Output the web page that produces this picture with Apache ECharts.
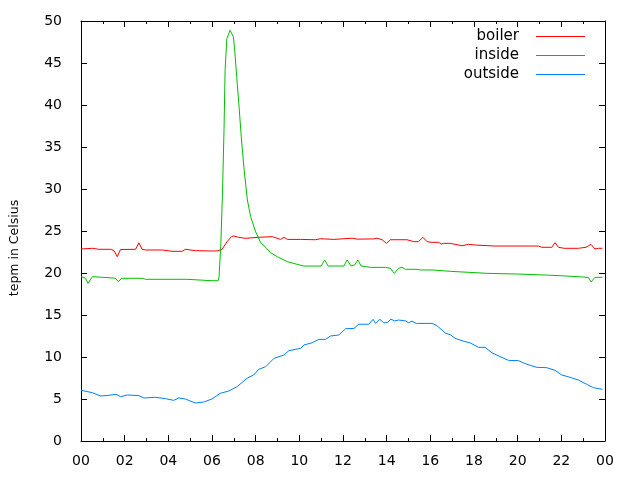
<!DOCTYPE html>
<html>
<head>
<meta charset="utf-8">
<script src="https://cdn.jsdelivr.net/npm/echarts@6/dist/echarts.min.js"></script>
<style>html,body{margin:0;padding:0;background:#fff}#c{width:640px;height:480px}</style>
</head>
<body>
<div id="c"></div>
<script>
const seriesNames = ['boiler', 'inside', 'outside'];
const xTickLabels = ['00','02','04','06','08','10','12','14','16','18','20','22','00'];
const yTickLabels = ['0','5','10','15','20','25','30','35','40','45','50'];

const boiler = [[0,22.86],[0.52,22.94],[0.82,22.82],[1.36,22.82],[1.51,22.66],[1.66,21.94],[1.81,22.8],[2.5,22.82],[2.65,23.6],[2.8,22.82],[2.96,22.74],[3.72,22.74],[4.17,22.58],[4.63,22.58],[4.78,22.82],[5.24,22.66],[6.0,22.62],[6.23,22.62],[6.46,22.82],[6.69,23.73],[6.9,24.35],[7.0,24.4],[7.22,24.25],[7.53,24.13],[8.14,24.25],[8.76,24.33],[9.14,24.0],[9.3,24.25],[9.45,24.0],[10.06,24.0],[10.74,23.96],[10.97,24.08],[11.58,24.0],[12.42,24.14],[12.65,24.03],[13.41,24.06],[13.56,24.14],[13.79,23.96],[13.99,23.53],[14.17,23.96],[14.93,23.96],[15.24,23.73],[15.46,23.73],[15.66,24.25],[15.85,23.73],[16.08,23.65],[16.38,23.65],[16.49,23.45],[16.61,23.53],[16.91,23.53],[17.45,23.25],[17.75,23.41],[18.06,23.33],[18.97,23.21],[20.57,23.21],[20.64,23.06],[20.95,23.21],[21.1,23.06],[21.56,23.06],[21.71,23.61],[21.87,23.06],[22.13,22.94],[22.78,22.94],[22.86,23.06],[23.13,23.06],[23.36,23.41],[23.54,22.86],[23.69,22.94],[23.88,22.94]];

const inside = [[0,19.56],[0.21,19.37],[0.32,18.77],[0.52,19.56],[1.28,19.44],[1.58,19.37],[1.71,18.97],[1.86,19.37],[2.8,19.37],[2.96,19.25],[4.86,19.25],[4.94,19.08],[6.0,19.08],[6.28,19.08],[6.32,19.5],[6.4,23.1],[6.48,29.5],[6.55,37],[6.6,44.2],[6.68,47.9],[6.83,48.9],[6.98,48.1],[7.05,46.2],[7.13,43.4],[7.24,39.8],[7.34,36.2],[7.47,32.3],[7.62,28.7],[7.77,26.7],[8.0,24.9],[8.23,23.6],[8.46,23.05],[8.69,22.4],[8.99,21.94],[9.45,21.35],[9.9,21.03],[10.21,20.83],[11.0,20.83],[11.16,21.55],[11.32,20.83],[12.04,20.83],[12.19,21.55],[12.37,20.83],[12.53,20.95],[12.68,21.55],[12.83,20.83],[13.26,20.67],[13.94,20.67],[14.17,20.56],[14.35,19.96],[14.55,20.56],[14.7,20.67],[14.86,20.44],[15.39,20.44],[15.54,20.36],[16.08,20.36],[16.15,20.2],[16.91,20.2],[16.99,20.08],[17.75,20.08],[17.83,19.96],[18.59,19.96],[18.67,19.88],[19.96,19.88],[20.04,19.76],[21.26,19.76],[21.33,19.64],[22.25,19.64],[22.32,19.48],[23.24,19.48],[23.36,18.93],[23.54,19.48],[23.88,19.48]];

const outside = [[0,6.04],[0.52,5.75],[0.9,5.36],[1.28,5.44],[1.61,5.56],[1.81,5.27],[2.12,5.48],[2.65,5.4],[2.88,5.12],[3.41,5.2],[3.87,5.04],[4.25,4.84],[4.48,5.12],[4.78,5.0],[5.24,4.52],[5.62,4.64],[6.0,5.0],[6.38,5.68],[6.77,5.95],[7.15,6.47],[7.37,6.95],[7.6,7.46],[7.91,7.86],[8.14,8.53],[8.46,8.85],[8.84,9.84],[9.3,10.24],[9.52,10.75],[10.06,11.03],[10.21,11.43],[10.59,11.7],[10.9,12.1],[11.2,12.1],[11.43,12.5],[11.81,12.62],[12.12,13.37],[12.5,13.4],[12.72,13.9],[13.18,13.9],[13.38,14.48],[13.49,14.0],[13.68,14.5],[13.87,14.08],[14.02,14.08],[14.2,14.5],[14.36,14.3],[14.55,14.4],[14.86,14.3],[15.01,14.08],[15.16,14.27],[15.36,14.0],[16.08,14.0],[16.3,13.73],[16.7,12.82],[16.91,12.66],[17.14,12.22],[17.45,11.94],[17.83,11.67],[18.21,11.15],[18.51,11.15],[18.82,10.5],[19.2,10.04],[19.58,9.6],[20.04,9.56],[20.42,9.13],[20.88,8.77],[21.33,8.73],[21.71,8.41],[22.02,7.86],[22.4,7.58],[22.78,7.26],[23.16,6.75],[23.47,6.35],[23.88,6.15]];

const colors = ['#ff0000', '#00c000', '#0080ff'];
const FONT = 'DejaVu Sans';

const chart = echarts.init(document.getElementById('c'), null, {renderer: 'canvas'});

function xAx(pos, showLabel) {
  return {
    type: 'value', min: 0, max: 24, interval: 2, position: pos,
    axisLine: {show: true, onZero: false, lineStyle: {color: '#000', width: 1}},
    axisTick: {show: true, inside: true, length: 6, lineStyle: {color: '#000'}},
    minorTick: {show: true, splitNumber: 2, length: 3, lineStyle: {color: '#000'}},
    splitLine: {show: false},
    axisLabel: {show: showLabel, margin: 13, color: '#000', fontFamily: FONT, fontSize: 14,
      formatter: v => xTickLabels[Math.round(v / 2)]}
  };
}
function yAx(pos, showLabel) {
  return {
    type: 'value', min: 0, max: 50, interval: 5, position: pos,
    name: showLabel ? 'tepm in Celsius' : '', nameLocation: 'middle', nameGap: 60, nameRotate: 90,
    nameTextStyle: {color: '#000', fontFamily: FONT, fontSize: 12.5, padding: [0, 34, 0, 0]},
    axisLine: {show: true, onZero: false, lineStyle: {color: '#000', width: 1}},
    axisTick: {show: true, inside: true, length: 6, lineStyle: {color: '#000'}},
    splitLine: {show: false},
    axisLabel: {show: showLabel, margin: 19, color: '#000', fontFamily: FONT, fontSize: 14,
      formatter: v => yTickLabels[Math.round(v / 5)]}
  };
}

const dataBySeries = [boiler, inside, outside];
const legends = seriesNames.map((n, i) => ({
  data: [{name: n, icon: 'path://M0,0H49V1H0Z', itemStyle: {color: colors[i], borderWidth: 0}}],
  right: 55, top: 29 + i * 19, align: 'right', orient: 'vertical',
  itemWidth: 49, itemHeight: 14, itemGap: 0, padding: 0, selectedMode: false,
  textStyle: {color: '#000', fontFamily: FONT, fontSize: 15, lineHeight: 14, padding: [0, 12, 0, 0]}
}));

chart.setOption({
  animation: false,
  backgroundColor: '#fff',
  grid: {left: 80, right: 35, top: 21, bottom: 39, containLabel: false},
  legend: legends,
  xAxis: [xAx('bottom', true), xAx('top', false)],
  yAxis: [yAx('left', true), yAx('right', false)],
  series: seriesNames.map((n, i) => ({
    name: n, type: 'line', xAxisIndex: 0, yAxisIndex: 0,
    data: dataBySeries[i], symbol: 'none', showSymbol: false,
    lineStyle: {color: colors[i], width: 1}, itemStyle: {color: colors[i]},
    emphasis: {disabled: true}
  }))
});
</script>
</body>
</html>
